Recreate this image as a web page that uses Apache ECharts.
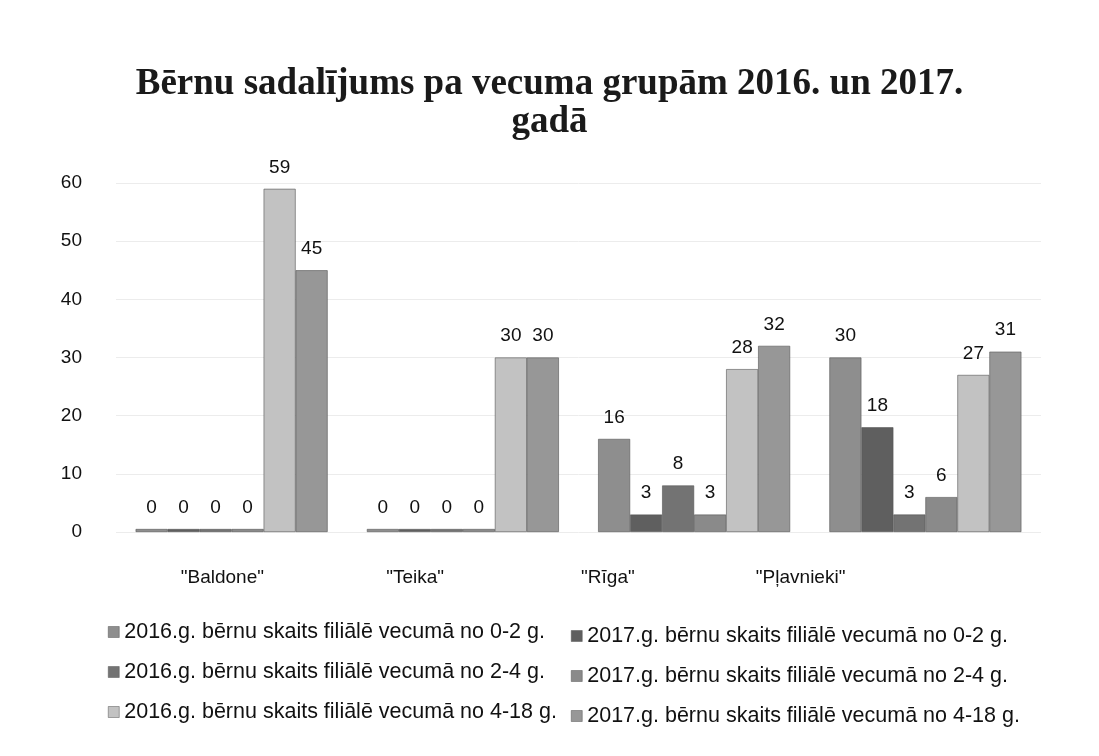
<!DOCTYPE html>
<html>
<head>
<meta charset="utf-8">
<title>Bērnu sadalījums pa vecuma grupām</title>
<script src="https://cdn.jsdelivr.net/npm/echarts@6/dist/echarts.min.js"></script>
<style>
  html, body { margin: 0; padding: 0; background: #fff; }
  #chart { width: 1099px; height: 756px; }
</style>
</head>
<body>
<div id="chart"></div>
<script>
/*#############  数据  ###############*/
var branches = ['"Baldone"', '"Teika"', '"Rīga"', '"Pļavnieki"'];
var seriesNames = [
  "2016.g. bērnu skaits filiālē vecumā no 0-2 g.",
  "2017.g. bērnu skaits filiālē vecumā no 0-2 g.",
  "2016.g. bērnu skaits filiālē vecumā no 2-4 g.",
  "2017.g. bērnu skaits filiālē vecumā no 2-4 g.",
  "2016.g. bērnu skaits filiālē vecumā no 4-18 g.",
  "2017.g. bērnu skaits filiālē vecumā no 4-18 g."
];
var v2016_02 = [0, 0, 16, 30];
var v2017_02 = [0, 0, 3, 18];
var v2016_24 = [0, 0, 8, 3];
var v2017_24 = [0, 0, 3, 6];
var v2016_418 = [59, 30, 28, 27];
var v2017_418 = [45, 30, 32, 31];
var yTicks = { min: 0, max: 60, interval: 10 };

var values = [v2016_02, v2017_02, v2016_24, v2017_24, v2016_418, v2017_418];
var colors = ["#8e8e8e", "#5f5f5f", "#737373", "#8a8a8a", "#c2c2c2", "#979797"];

var font = "Liberation Sans, Arial, sans-serif";

/*#############  图表  ###############*/
var myChart = echarts.init(document.getElementById("chart"));

var series = [];
for (var i = 0; i < values.length; i++) {
  series.push({
    name: seriesNames[i],
    type: "bar",
    xAxisIndex: 0,
    yAxisIndex: 0,
    barWidth: 32,
    barGap: "0%",
    barMinHeight: 3,
    data: values[i],
    itemStyle: {
      color: colors[i],
      borderColor: "#555",
      borderWidth: 0.6
    },
    label: {
      show: true,
      position: "top",
      distance: 12,
      color: "#111",
      fontSize: 19,
      fontFamily: font
    }
  });
}

var legendText = { fontSize: 21.5, color: "#111", fontFamily: font };

var option = {
  backgroundColor: "#ffffff",
  animation: false,
  title: {
    text: "Bērnu sadalījums pa vecuma grupām 2016. un 2017.\ngadā",
    left: "center",
    top: 60,
    textStyle: {
      fontFamily: "Liberation Serif, Times New Roman, serif",
      fontWeight: "bold",
      fontSize: 37,
      lineHeight: 38,
      color: "#1a1a1a"
    }
  },
  legend: [
    {
      orient: "vertical",
      left: 103,
      top: 616,
      itemGap: 18,
      itemWidth: 11,
      itemHeight: 11,
      icon: "rect",
      itemStyle: { borderWidth: 0.5 },
      data: [seriesNames[0], seriesNames[2], seriesNames[4]],
      textStyle: legendText
    },
    {
      orient: "vertical",
      left: 566,
      top: 620,
      itemGap: 18,
      itemWidth: 11,
      itemHeight: 11,
      icon: "rect",
      itemStyle: { borderWidth: 0.5 },
      data: [seriesNames[1], seriesNames[3], seriesNames[5]],
      textStyle: legendText
    }
  ],
  grid: [
    { left: 116, width: 925, top: 183, bottom: 224 },
    { left: 126, width: 771, top: 183, bottom: 224 }
  ],
  xAxis: [
    {
      gridIndex: 0,
      type: "category",
      data: branches,
      axisLine: { show: false },
      axisTick: { show: false },
      axisLabel: { show: false }
    },
    {
      gridIndex: 1,
      type: "category",
      data: branches,
      axisLine: { show: false },
      axisTick: { show: false },
      axisLabel: {
        margin: 36,
        fontSize: 19,
        color: "#111",
        fontFamily: font
      }
    }
  ],
  yAxis: [
    {
      gridIndex: 0,
      type: "value",
      min: yTicks.min,
      max: yTicks.max,
      interval: yTicks.interval,
      axisLine: { show: false },
      axisTick: { show: false },
      axisLabel: {
        margin: 34,
        fontSize: 19,
        color: "#111",
        fontFamily: font
      },
      splitLine: { lineStyle: { color: "#ececec", width: 1 } }
    },
    {
      gridIndex: 1,
      type: "value",
      min: yTicks.min,
      max: yTicks.max,
      interval: yTicks.interval,
      show: false
    }
  ],
  series: series
};

if (option && typeof option === "object") {
  myChart.setOption(option, true);
}
</script>
</body>
</html>
